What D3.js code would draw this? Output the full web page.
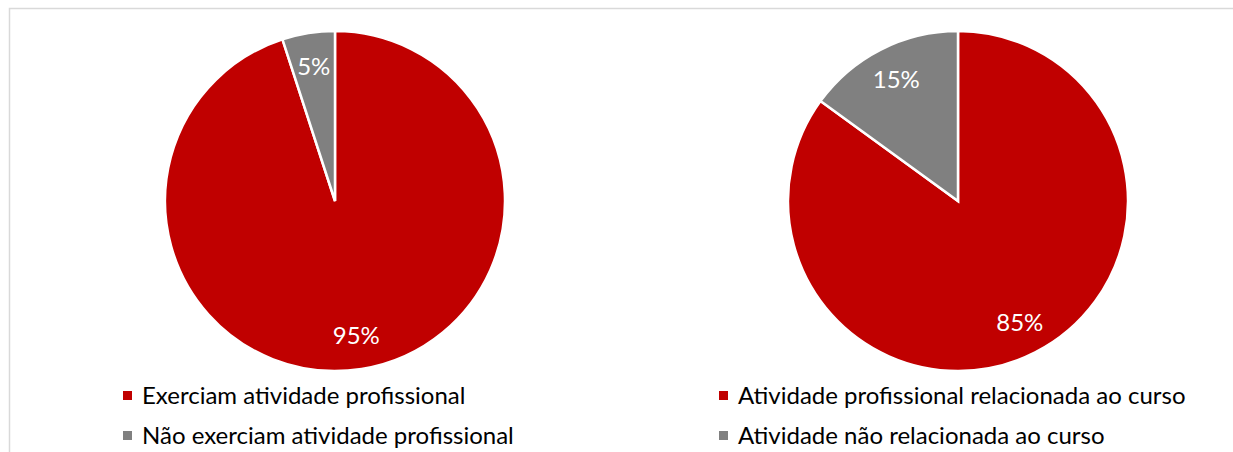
<!DOCTYPE html>
<html>
<head>
<meta charset="utf-8">
<script src="https://cdn.jsdelivr.net/npm/d3@7"></script>
<style>
  body { margin: 0; background: #fff; }
  svg { display: block; font-family: Lato, "Liberation Sans", sans-serif; }
</style>
</head>
<body>
<svg width="1233" height="452"></svg>
<script>
// chart 1: exercise of professional activity
const labels1 = ["Exerciam atividade profissional", "Não exerciam atividade profissional"];
const values1 = [95, 5];
// chart 2: relation to course
const labels2 = ["Atividade profissional relacionada ao curso", "Atividade não relacionada ao curso"];
const values2 = [85, 15];

const colors = ["#c00000", "#808080"];

const svg = d3.select("svg"),
    width = +svg.attr("width"),
    height = +svg.attr("height");

// chart area frame (cropped on right/bottom)
svg.append("rect")
    .attr("x", 9.5).attr("y", 8.5)
    .attr("width", width + 20).attr("height", height + 20)
    .attr("fill", "none")
    .attr("stroke", "#d9d9d9")
    .attr("stroke-width", 1.5);

const radius = 170;
const pie = d3.pie().sort(null).value(d => d);
const arc = d3.arc().innerRadius(0).outerRadius(radius);
const labelArc = d3.arc().innerRadius(radius * 0.8).outerRadius(radius * 0.8);

function drawPie(cx, cy, values, labels, legendX) {
    const g = svg.append("g")
        .attr("transform", `translate(${cx},${cy})`);

    const arcs = pie(values);

    g.selectAll(".slice")
        .data(arcs)
        .enter().append("path")
        .attr("class", "slice")
        .attr("d", arc)
        .attr("fill", (d, i) => colors[i])
        .attr("stroke", "#fff")
        .attr("stroke-width", 2.5)
        .attr("stroke-linejoin", "miter");

    g.selectAll(".pct")
        .data(arcs)
        .enter().append("text")
        .attr("class", "pct")
        .attr("transform", d => `translate(${labelArc.centroid(d)})`)
        .attr("dy", "0.35em")
        .style("text-anchor", "middle")
        .style("font-size", "24px")
        .attr("fill", "#fff")
        .text(d => d.data + "%");

    const leg = svg.append("g")
        .attr("transform", `translate(${legendX},396)`);

    const item = leg.selectAll(".item")
        .data(labels)
        .enter().append("g")
        .attr("class", "item")
        .attr("transform", (d, i) => `translate(0,${i * 40})`);

    item.append("rect")
        .attr("x", 0).attr("y", -5)
        .attr("width", 9).attr("height", 9)
        .attr("fill", (d, i) => colors[i]);

    item.append("text")
        .attr("x", 19)
        .attr("dy", "0.35em")
        .style("font-size", "24px")
        .attr("fill", "#000")
        .text(d => d);
}

drawPie(335, 201, values1, labels1, 123);
drawPie(958, 201, values2, labels2, 719);
</script>
</body>
</html>
